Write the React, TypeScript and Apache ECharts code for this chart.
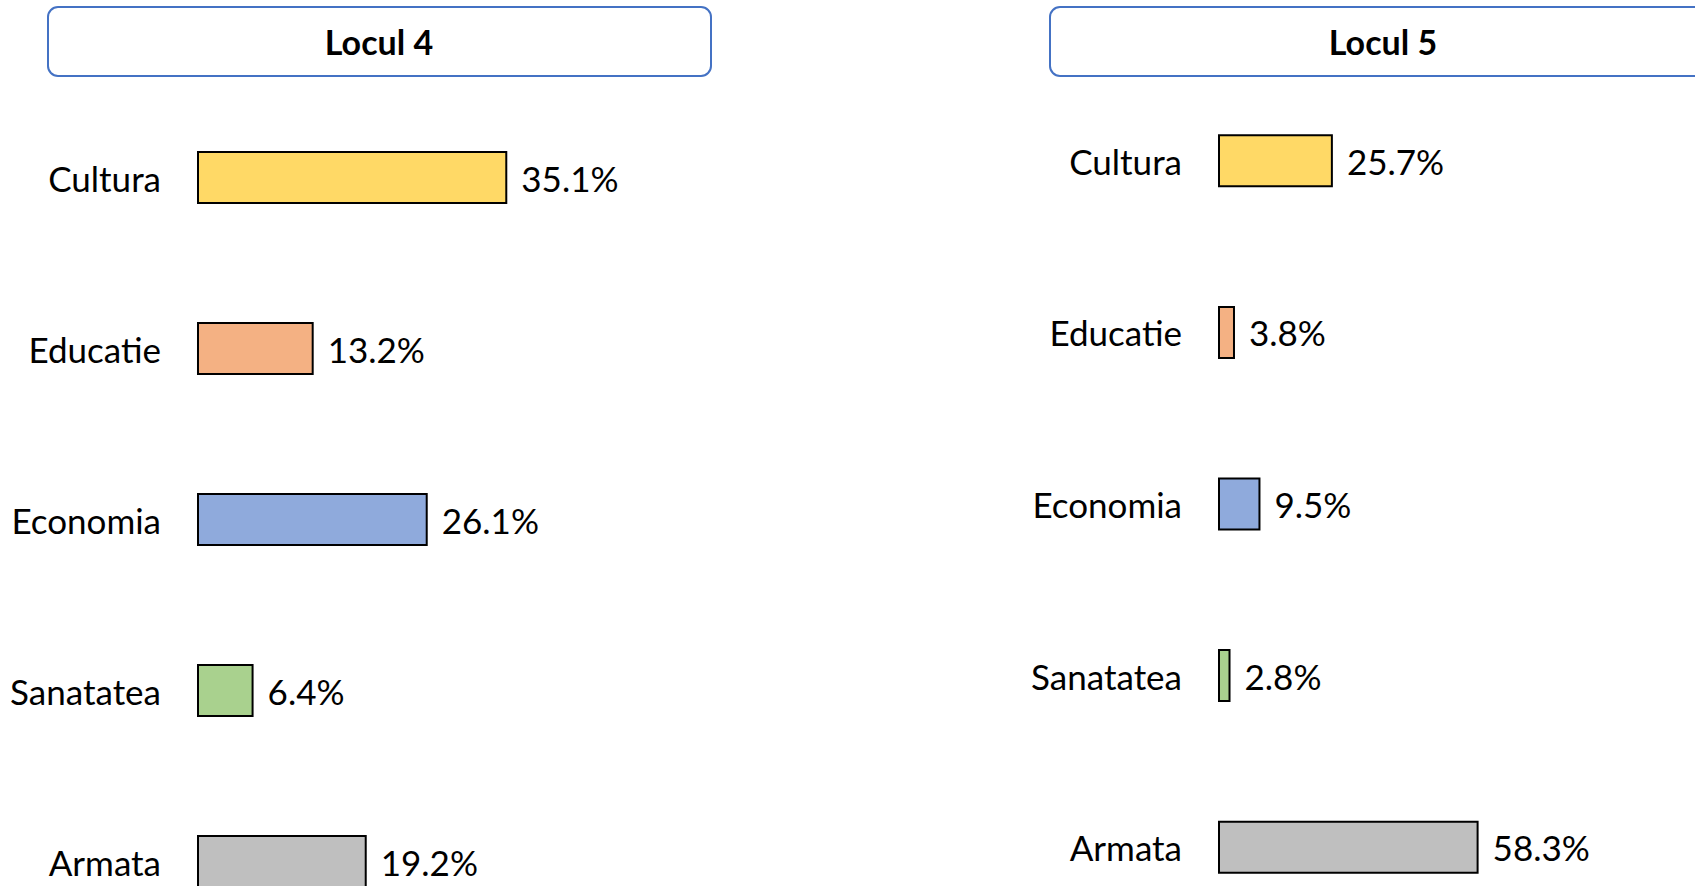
import React, { useEffect, useRef } from "react";
import * as echarts from "echarts";

const categories = ["Cultura", "Educatie", "Economia", "Sanatatea", "Armata"];
const locul4Values = [35.1, 13.2, 26.1, 6.4, 19.2];
const locul5Values = [25.7, 3.8, 9.5, 2.8, 58.3];
const barColors = ["#FFD966", "#F4B183", "#8FAADC", "#A9D18E", "#BFBFBF"];
const titles = ["Locul 4", "Locul 5"];

const FONT = "Lato";

export default function App() {
  const ref = useRef<HTMLDivElement>(null);
  useEffect(() => {
    document.body.style.margin = "0";
    document.body.style.overflow = "hidden";
    const chart = echarts.init(ref.current!, null, { renderer: "svg" });
    const mkData = (vals: number[]) =>
      vals.map((v, i) => ({
        value: v,
        itemStyle: { color: barColors[i], borderColor: "#000", borderWidth: 2 },
      }));
    const yAxisBase = {
      type: "category" as const,
      data: categories,
      inverse: true,
      axisLine: { show: false },
      axisTick: { show: false },
      splitLine: { show: false },
      axisLabel: { color: "#000", fontSize: 35, fontFamily: FONT, margin: 36 },
    };
    const labelBase = {
      show: true,
      position: "right" as const,
      distance: 14,
      formatter: (p: any) => `${p.value}%`,
      color: "#000",
      fontSize: 35,
      fontFamily: FONT,
    };
    chart.setOption({
      animation: false,
      backgroundColor: "#fff",
      grid: [
        { left: 197, top: 92, width: 442, height: 855 },
        { left: 1218, top: 75, width: 447, height: 858 },
      ],
      xAxis: [
        { type: "value", gridIndex: 0, min: 0, max: 50, show: false },
        { type: "value", gridIndex: 1, min: 0, max: 100, show: false },
      ],
      yAxis: [
        { ...yAxisBase, gridIndex: 0 },
        { ...yAxisBase, gridIndex: 1 },
      ],
      series: [
        {
          type: "bar",
          name: titles[0],
          xAxisIndex: 0,
          yAxisIndex: 0,
          barWidth: 53,
          data: mkData(locul4Values),
          label: labelBase,
        },
        {
          type: "bar",
          name: titles[1],
          xAxisIndex: 1,
          yAxisIndex: 1,
          barWidth: 53,
          data: mkData(locul5Values),
          label: labelBase,
        },
      ],
      graphic: [
        {
          type: "rect",
          shape: { x: 48, y: 7, width: 663, height: 69, r: 10 },
          style: { fill: "#fff", stroke: "#4472C4", lineWidth: 2 },
          z: 0,
        },
        {
          type: "text",
          x: 379,
          y: 41,
          style: {
            text: titles[0],
            align: "center",
            verticalAlign: "middle",
            fontSize: 34,
            fontWeight: "bold",
            fontFamily: FONT,
            fill: "#000",
          },
          z: 1,
        },
        {
          type: "rect",
          shape: { x: 1050, y: 7, width: 666, height: 69, r: 10 },
          style: { fill: "#fff", stroke: "#4472C4", lineWidth: 2 },
          z: 0,
        },
        {
          type: "text",
          x: 1383,
          y: 41,
          style: {
            text: titles[1],
            align: "center",
            verticalAlign: "middle",
            fontSize: 34,
            fontWeight: "bold",
            fontFamily: FONT,
            fill: "#000",
          },
          z: 1,
        },
      ],
    });
    return () => chart.dispose();
  }, []);
  return (
    <div style={{ position: "absolute", left: 0, top: 0, width: 1695, height: 886, overflow: "hidden" }}>
      <div ref={ref} style={{ width: 1695, height: 960 }} />
    </div>
  );
}
